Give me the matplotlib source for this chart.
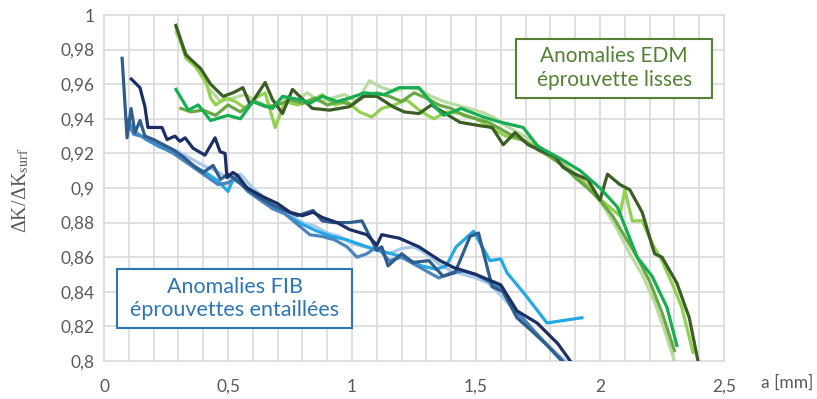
## stress intensity ratio vs crack depth, EDM and FIB anomalies

import numpy as np
from matplotlib import pyplot as plt
from matplotlib.ticker import MultipleLocator, FuncFormatter
from matplotlib.patches import Rectangle

plt.rcParams['font.family'] = ['Lato', 'DejaVu Sans']
plt.rcParams['mathtext.fontset'] = 'stix'

## green curves: EDM anomalies, smooth specimens
edm_dark_x = [0.29, 0.33, 0.39, 0.43, 0.48, 0.52, 0.56, 0.59, 0.65, 0.68, 0.72, 0.76, 0.84, 0.91, 0.99,
              1.045, 1.10, 1.165, 1.21, 1.27, 1.32, 1.435, 1.516, 1.565, 1.61, 1.657, 1.71, 1.77, 1.82,
              1.85, 1.90, 1.95, 2.00, 2.03, 2.08, 2.12, 2.17, 2.22, 2.25, 2.31, 2.36, 2.395]
edm_dark_y = [0.994, 0.977, 0.969, 0.960, 0.953, 0.955, 0.958, 0.948, 0.961, 0.951, 0.943, 0.957, 0.946, 0.945, 0.947,
              0.953, 0.953, 0.947, 0.944, 0.943, 0.948, 0.938, 0.936, 0.935, 0.925, 0.932, 0.925, 0.921, 0.918,
              0.912, 0.908, 0.905, 0.893, 0.908, 0.902, 0.899, 0.886, 0.862, 0.860, 0.845, 0.825, 0.800]

edm_light_x = [0.29, 0.33, 0.37, 0.41, 0.43, 0.45, 0.49, 0.53, 0.57, 0.61, 0.65, 0.69, 0.73, 0.78, 0.83, 0.88,
               0.93, 0.98, 1.03, 1.08, 1.12, 1.17, 1.22, 1.28, 1.33, 1.38, 1.44, 1.50, 1.56, 1.62, 1.68, 1.74,
               1.80, 1.86, 1.92, 1.98, 2.03, 2.08, 2.10, 2.13, 2.17, 2.21, 2.25, 2.29, 2.33, 2.375]
edm_light_y = [0.993, 0.975, 0.970, 0.962, 0.952, 0.948, 0.952, 0.950, 0.946, 0.952, 0.955, 0.935, 0.950, 0.948, 0.950, 0.954,
               0.948, 0.950, 0.944, 0.941, 0.946, 0.948, 0.951, 0.944, 0.940, 0.944, 0.943, 0.940, 0.935, 0.930, 0.928, 0.924,
               0.918, 0.912, 0.906, 0.896, 0.890, 0.884, 0.899, 0.881, 0.881, 0.868, 0.858, 0.845, 0.831, 0.805]

edm_pale_x = [0.29, 0.33, 0.37, 0.42, 0.47, 0.52, 0.57, 0.62, 0.67, 0.72, 0.77, 0.82, 0.87, 0.92, 0.97, 1.02,
              1.07, 1.12, 1.17, 1.22, 1.27, 1.32, 1.37, 1.42, 1.47, 1.52, 1.57, 1.62, 1.67, 1.72, 1.77, 1.82,
              1.87, 1.92, 1.97, 2.02, 2.07, 2.12, 2.17, 2.22, 2.26, 2.30]
edm_pale_y = [0.990, 0.978, 0.970, 0.958, 0.950, 0.952, 0.954, 0.950, 0.946, 0.952, 0.950, 0.955, 0.950, 0.952, 0.954, 0.950,
              0.962, 0.958, 0.956, 0.958, 0.957, 0.953, 0.950, 0.948, 0.946, 0.944, 0.941, 0.936, 0.932, 0.928, 0.922, 0.918,
              0.912, 0.906, 0.898, 0.888, 0.876, 0.862, 0.850, 0.834, 0.818, 0.800]

edm_mid_x = [0.31, 0.35, 0.40, 0.45, 0.50, 0.55, 0.60, 0.65, 0.70, 0.75, 0.80, 0.85, 0.90, 0.95, 1.00, 1.05,
             1.10, 1.15, 1.20, 1.25, 1.30, 1.35, 1.40, 1.45, 1.50, 1.55, 1.60, 1.65, 1.70, 1.75, 1.80, 1.85,
             1.90, 1.95, 2.00, 2.05, 2.10, 2.15, 2.20, 2.25, 2.30]
edm_mid_y = [0.946, 0.944, 0.945, 0.942, 0.948, 0.944, 0.950, 0.947, 0.948, 0.951, 0.949, 0.952, 0.948, 0.950, 0.948, 0.953,
             0.955, 0.953, 0.950, 0.955, 0.952, 0.948, 0.946, 0.942, 0.940, 0.938, 0.934, 0.930, 0.927, 0.922, 0.918, 0.913,
             0.906, 0.900, 0.893, 0.884, 0.872, 0.860, 0.846, 0.828, 0.806]

edm_bright_x = [0.29, 0.34, 0.38, 0.43, 0.50, 0.55, 0.60, 0.68, 0.72, 0.79, 0.83, 0.88, 0.94, 0.99, 1.05, 1.13,
                1.19, 1.27, 1.34, 1.37, 1.44, 1.53, 1.60, 1.69, 1.75, 1.84, 1.92, 2.00, 2.07, 2.15, 2.21, 2.27, 2.31]
edm_bright_y = [0.957, 0.945, 0.948, 0.939, 0.942, 0.940, 0.950, 0.946, 0.953, 0.951, 0.949, 0.953, 0.950, 0.952, 0.955, 0.954,
                0.958, 0.958, 0.946, 0.942, 0.946, 0.941, 0.938, 0.935, 0.924, 0.917, 0.910, 0.900, 0.889, 0.860, 0.849, 0.831, 0.809]

## blue curves: FIB anomalies, notched specimens
fib_light_x = [0.10, 0.15, 0.20, 0.25, 0.30, 0.35, 0.40, 0.45, 0.50, 0.55, 0.60, 0.65, 0.70, 0.75, 0.80, 0.85, 0.90, 0.95,
               1.00, 1.05, 1.10, 1.15, 1.20, 1.25, 1.30, 1.35, 1.40, 1.45, 1.50, 1.55, 1.60, 1.65, 1.70, 1.75, 1.80, 1.86]
fib_light_y = [0.935, 0.930, 0.927, 0.924, 0.921, 0.917, 0.913, 0.910, 0.906, 0.908, 0.900, 0.894, 0.889, 0.884, 0.880, 0.878, 0.874, 0.872,
               0.868, 0.866, 0.865, 0.862, 0.865, 0.866, 0.862, 0.856, 0.852, 0.850, 0.848, 0.845, 0.838, 0.830, 0.822, 0.815, 0.808, 0.800]

fib_sky_x = [0.10, 0.13, 0.17, 0.22, 0.27, 0.32, 0.37, 0.42, 0.46, 0.50, 0.52, 0.56, 0.62, 0.68, 0.74, 0.80, 0.86,
             0.92, 0.98, 1.04, 1.10, 1.16, 1.22, 1.28, 1.34, 1.38, 1.42, 1.49, 1.556, 1.60, 1.625, 1.70, 1.786, 1.927]
fib_sky_y = [0.938, 0.932, 0.928, 0.924, 0.921, 0.917, 0.912, 0.908, 0.904, 0.898, 0.905, 0.902, 0.896, 0.890, 0.884, 0.879, 0.875,
             0.872, 0.870, 0.867, 0.864, 0.862, 0.859, 0.855, 0.853, 0.855, 0.866, 0.875, 0.858, 0.859, 0.851, 0.838, 0.822, 0.825]

fib_mid_x = [0.09, 0.12, 0.15, 0.19, 0.23, 0.28, 0.33, 0.38, 0.42, 0.46, 0.50, 0.53, 0.58, 0.63, 0.68, 0.73, 0.78, 0.83,
             0.88, 0.93, 0.98, 1.02, 1.06, 1.10, 1.15, 1.20, 1.25, 1.30, 1.35, 1.40, 1.45, 1.50, 1.55, 1.60, 1.65, 1.70,
             1.75, 1.80, 1.845]
fib_mid_y = [0.940, 0.931, 0.930, 0.927, 0.924, 0.920, 0.915, 0.910, 0.906, 0.902, 0.903, 0.906, 0.898, 0.893, 0.888, 0.885, 0.879, 0.873,
             0.872, 0.870, 0.866, 0.860, 0.862, 0.866, 0.858, 0.860, 0.856, 0.852, 0.848, 0.851, 0.852, 0.850, 0.846, 0.842, 0.830, 0.823,
             0.815, 0.807, 0.800]

fib_dark_x = [0.073, 0.093, 0.109, 0.125, 0.145, 0.165, 0.20, 0.24, 0.28, 0.32, 0.36, 0.40, 0.44, 0.47, 0.50, 0.53, 0.57,
              0.62, 0.68, 0.73, 0.78, 0.843, 0.88, 0.924, 0.99, 1.04, 1.10, 1.12, 1.145, 1.20, 1.246, 1.31, 1.367, 1.415,
              1.476, 1.51, 1.565, 1.61, 1.665, 1.72, 1.78, 1.85]
fib_dark_y = [0.975, 0.929, 0.946, 0.932, 0.939, 0.930, 0.928, 0.925, 0.922, 0.918, 0.913, 0.909, 0.913, 0.905, 0.908, 0.905, 0.900,
              0.895, 0.890, 0.887, 0.884, 0.887, 0.881, 0.880, 0.880, 0.881, 0.864, 0.866, 0.855, 0.862, 0.857, 0.858, 0.849, 0.851,
              0.872, 0.874, 0.843, 0.840, 0.825, 0.818, 0.810, 0.800]

fib_navy_x = [0.11, 0.145, 0.165, 0.177, 0.234, 0.254, 0.286, 0.306, 0.327, 0.359, 0.407, 0.448, 0.468, 0.488, 0.496,
              0.52, 0.54, 0.577, 0.64, 0.70, 0.75, 0.80, 0.843, 0.88, 0.94, 0.99, 1.06, 1.10, 1.12, 1.19, 1.27, 1.355,
              1.41, 1.50, 1.60, 1.665, 1.746, 1.83, 1.88]
fib_navy_y = [0.963, 0.958, 0.947, 0.935, 0.935, 0.928, 0.930, 0.927, 0.929, 0.923, 0.919, 0.929, 0.921, 0.920, 0.906,
              0.909, 0.907, 0.900, 0.895, 0.891, 0.886, 0.884, 0.886, 0.883, 0.880, 0.876, 0.873, 0.867, 0.873, 0.871, 0.866, 0.858,
              0.854, 0.850, 0.844, 0.829, 0.822, 0.810, 0.800]

fig = plt.figure(figsize=(8.17, 3.99), dpi=100)
ax = fig.add_axes([104/817, 1-361/399, 620/817, 346/399])

lw = 2.3
ax.plot(fib_light_x, fib_light_y, color="#a9c9e8", lw=lw)
ax.plot(fib_sky_x, fib_sky_y, color="#22a8e4", lw=lw)
ax.plot(fib_mid_x, fib_mid_y, color="#4a84bf", lw=lw)
ax.plot(fib_dark_x, fib_dark_y, color="#2f5d8c", lw=lw)
ax.plot(fib_navy_x, fib_navy_y, color="#1b2f66", lw=lw)

ax.plot(edm_pale_x, edm_pale_y, color="#b8dba0", lw=lw)
ax.plot(edm_light_x, edm_light_y, color="#92d050", lw=lw)
ax.plot(edm_mid_x, edm_mid_y, color="#6aa843", lw=lw)
ax.plot(edm_dark_x, edm_dark_y, color="#3b5e25", lw=lw)
ax.plot(edm_bright_x, edm_bright_y, color="#17ad52", lw=lw)

ax.set_xlim(0, 2.5)
ax.set_ylim(0.8, 1.0)
ax.xaxis.set_major_locator(MultipleLocator(0.1))
ax.yaxis.set_major_locator(MultipleLocator(0.02))

def comma(v, pos, step):
    if abs(v/step - round(v/step)) > 1e-6:
        return ''
    return '{:g}'.format(round(v, 3)).replace('.', ',')

ax.xaxis.set_major_formatter(FuncFormatter(lambda v, p: comma(v, p, 0.5)))
ax.yaxis.set_major_formatter(FuncFormatter(lambda v, p: comma(v, p, 0.02)))
ax.tick_params(length=0, labelsize=12.5, labelcolor="#595959", pad=7)
ax.tick_params(axis='x', pad=13)
for s in ax.spines.values():
    s.set_visible(False)
ax.grid(True, color="#d9d9d9", lw=1.2, clip_on=False)
ax.set_axisbelow(True)

## annotation boxes (axes fraction)
ax.add_patch(Rectangle((0.665, 0.760), 0.316, 0.171, transform=ax.transAxes,
                       fc='white', ec="#548235", lw=1.5, zorder=5))
ax.text(0.823, 0.8455, "Anomalies EDM\néprouvette lisses", transform=ax.transAxes,
        ha='center', va='center', fontsize=15, color="#548235", linespacing=1.25, zorder=6)
ax.add_patch(Rectangle((0.021, 0.095), 0.379, 0.171, transform=ax.transAxes,
                       fc='white', ec="#2e75b6", lw=1.5, zorder=5))
ax.text(0.2105, 0.1805, "Anomalies FIB\néprouvettes entaillées", transform=ax.transAxes,
        ha='center', va='center', fontsize=15.5, color="#2e75b6", linespacing=1.2, zorder=6)

fig.text(787/817, 1-383/399, "a [mm]", ha='center', va='center', fontsize=12.5, color="#595959")
fig.text(21/817, 1-190/399, r"ΔK/ΔK$_{\mathrm{surf}}$", rotation=90, ha='center', va='center',
         fontsize=14.5, color="#595959", family=['Liberation Serif', 'DejaVu Serif'])

plt.savefig("out.png", dpi=100)
